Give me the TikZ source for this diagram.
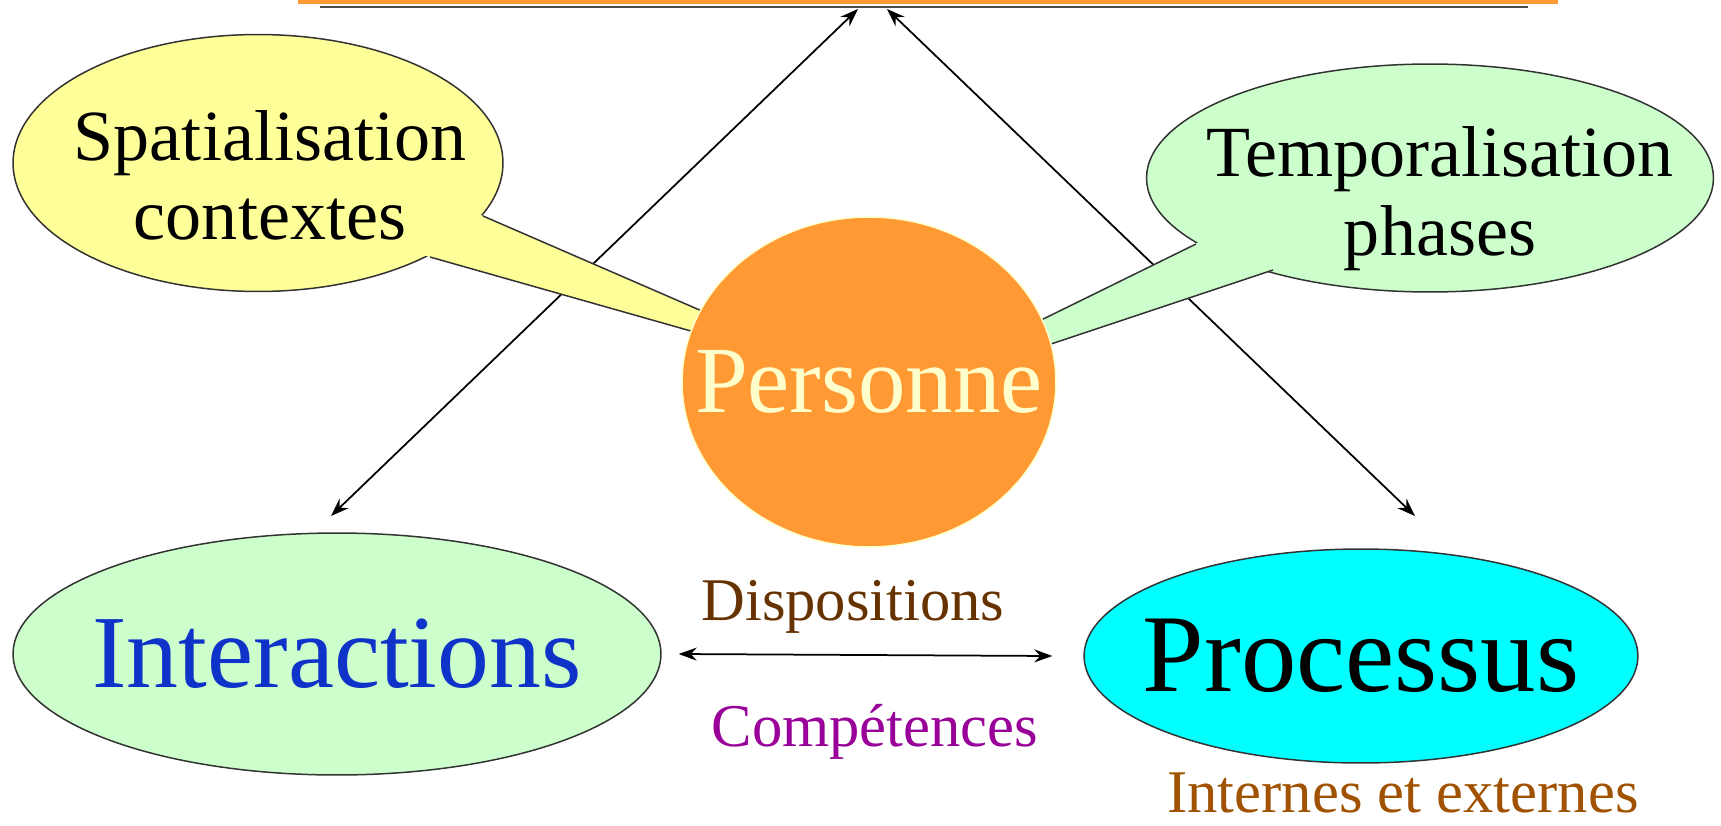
\documentclass[tikz,border=0pt]{standalone}
\usepackage{fontspec}
\setmainfont{Liberation Serif}
\usetikzlibrary{shapes.geometric,arrows.meta}
\definecolor{orangeP}{HTML}{FF9933}
\definecolor{jaunePale}{HTML}{FFFFCC}
\definecolor{jauneB}{HTML}{FFFF99}
\definecolor{vertB}{HTML}{CCFFCC}
\definecolor{cyanB}{HTML}{00FFFF}
\definecolor{bleuT}{RGB}{15,50,200}
\definecolor{brunT}{HTML}{663300}
\definecolor{violetT}{HTML}{990099}
\definecolor{rouilleT}{RGB}{160,82,0}
\tikzset{
  bulle/.style={ellipse,draw=black!80,line width=0.03cm,inner sep=0pt},
  fleche/.style={{Stealth[length=0.36cm,width=0.26cm]}-{Stealth[length=0.36cm,width=0.26cm]},line width=0.035cm},
  queue/.style={line width=0.03cm,black!80}
}
\begin{document}
\begin{tikzpicture}[x=0.02cm,y=-0.02cm]
\useasboundingbox (0,0) rectangle (1721,825);
% bord du cadre du haut
\draw[orangeP,line width=0.08cm] (298,2) -- (1558,2);
\draw[black!70,line width=0.04cm] (320,7) -- (1528,7);
\coordinate (hautg) at (858,9);
\coordinate (hautd) at (887,9);
\coordinate (basg) at (331,516);
\coordinate (basd) at (1415,516);
\draw[fleche] (hautg) -- (basg);
\draw[fleche] (hautd) -- (basd);
% bulles
\node[bulle,fill=jauneB,minimum width=9.8cm,minimum height=5.14cm] (spat) at (258,163) {};
\node[bulle,fill=vertB,minimum width=11.34cm,minimum height=4.56cm] (temp) at (1430,178) {};
\fill[jauneB] (469,210) -- (718,318) -- (705,335) -- (416,253) -- cycle;
\draw[queue] (483,216) -- (718,318) (430,257) -- (705,335);
\fill[vertB] (1209,237) -- (1029,326) -- (1036,349) -- (1287,265) -- cycle;
\draw[queue] (1196,244) -- (1029,326) (1273,270) -- (1036,349);
\node[align=center,font=\fontsize{41}{45}\selectfont] (spatt) at (270,175) {Spatialisation\\contextes};
\node[align=center,font=\fontsize{41}{45}\selectfont] (tempt) at (1440,199) {Temporalisation\\phases};
% personne
\node[ellipse,fill=orangeP,draw=jaunePale,line width=0.03cm,inner sep=0pt,minimum width=7.48cm,minimum height=6.6cm] (pers) at (869,382) {};
\node[text=jaunePale,font=\fontsize{54}{60}\selectfont] (perst) at (pers) {Personne};
% interactions et processus
\node[bulle,fill=vertB,minimum width=12.96cm,minimum height=4.84cm] (inter) at (337,654) {};
\node[text=bleuT,font=\fontsize{59}{64}\selectfont] (intert) at (inter) {Interactions};
\node[bulle,fill=cyanB,minimum width=11.08cm,minimum height=4.28cm] (proc) at (1361,656) {};
\node[font=\fontsize{63}{68}\selectfont] (proct) at (proc) {Processus};
\draw[fleche] ([xshift=0.34cm]inter.east) -- ([xshift=-0.62cm]proc.west);
\node[anchor=base,text=brunT,font=\fontsize{34.5}{40}\selectfont] (dispo) at (853,620) {Dispositions};
\node[anchor=base,text=violetT,font=\fontsize{34.5}{40}\selectfont] (compe) at (875,746) {Compétences};
\node[anchor=base,inner sep=0pt,text=rouilleT,font=\fontsize{34.5}{40}\selectfont] (intext) at (1403,812) {Internes et externes};
\end{tikzpicture}
\end{document}
